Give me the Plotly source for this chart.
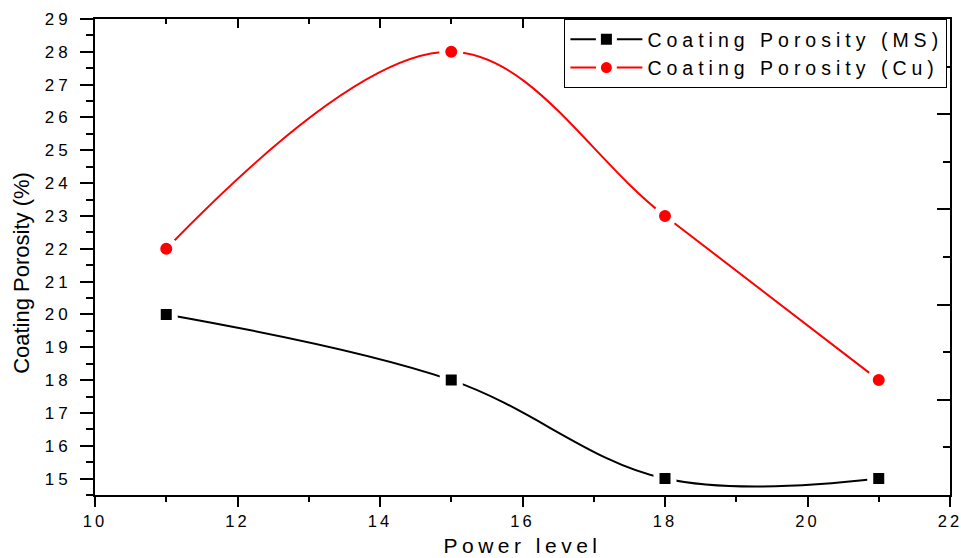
import plotly.graph_objects as go

# Coating porosity measured at each spray power level
power_level = [11, 15, 18, 21]
porosity_ms = [20, 18, 15, 15]
porosity_cu = [22, 28, 23, 18]

series_names = ["Coating Porosity (MS)", "Coating Porosity (Cu)"]

x_range = [10, 22]
y_range = [14.5, 29]

FONT = "Liberation Sans, Arial, Helvetica, sans-serif"

fig = go.Figure()

fig.add_trace(go.Scatter(
    x=power_level, y=porosity_ms, name=series_names[0], mode="lines+markers",
    line=dict(color="black", width=2, shape="spline", smoothing=1.05),
    marker=dict(symbol="square", size=17, color="black",
                line=dict(color="white", width=6)),
))
fig.add_trace(go.Scatter(
    x=power_level, y=porosity_cu, name=series_names[1], mode="lines+markers",
    line=dict(color="#ff0000", width=2, shape="spline", smoothing=1.05),
    marker=dict(symbol="circle", size=18, color="#ff0000",
                line=dict(color="white", width=6)),
))
# empty trace that carries the mirrored top/right frame axes
fig.add_trace(go.Scatter(x=[], y=[], xaxis="x2", yaxis="y2",
                         showlegend=False, hoverinfo="skip"))

axis_common = dict(showline=True, linecolor="black", linewidth=2,
                   showgrid=False, zeroline=False, tickcolor="black",
                   tickwidth=2, automargin=False)

fig.update_layout(
    width=961, height=558,
    margin=dict(l=95, r=11, t=19, b=63, autoexpand=False),
    paper_bgcolor="white", plot_bgcolor="white",
    font=dict(family=FONT, color="black"),
    showlegend=True,
    legend=dict(
        x=0.549, y=1, xanchor="left", yanchor="top",
        bgcolor="white", bordercolor="black", borderwidth=1,
        font=dict(family=FONT, size=19.5, color="black"),
        itemwidth=72, tracegroupgap=0,
    ),
    xaxis=dict(
        **axis_common, range=x_range, tick0=10, dtick=2,
        ticks="outside", ticklen=10,
        tickfont=dict(family=FONT, size=16.5),
        minor=dict(ticks="outside", dtick=1, ticklen=5, tickwidth=2,
                   tickcolor="black"),
        title=dict(text="Power level", font=dict(family=FONT, size=21),
                   standoff=10),
    ),
    yaxis=dict(
        **axis_common, range=y_range, tick0=15, dtick=1,
        ticks="outside", ticklen=13, ticklabelstandoff=5,
        tickfont=dict(family=FONT, size=17),
        minor=dict(ticks="outside", dtick=0.5, ticklen=7, tickwidth=2,
                   tickcolor="black"),
        title=dict(text="Coating Porosity (%)",
                   font=dict(family=FONT, size=22), standoff=17),
    ),
    xaxis2=dict(
        **axis_common, overlaying="x", side="top", anchor="y2",
        range=x_range, tick0=10, dtick=2, ticks="inside", ticklen=9,
        showticklabels=False,
        minor=dict(ticks="inside", dtick=1, ticklen=5, tickwidth=2,
                   tickcolor="black"),
    ),
    yaxis2=dict(
        **axis_common, overlaying="y", side="right", anchor="x2",
        range=[0, 10], tick0=0, dtick=2, ticks="inside", ticklen=13,
        showticklabels=False,
        minor=dict(ticks="inside", dtick=1, ticklen=7, tickwidth=2,
                   tickcolor="black"),
    ),
)

# widen the letter spacing of the tick labels, x title and legend,
# nudge the y title down, then stretch the legend frame to fit
post_script = """
var gd = document.getElementById('{plot_id}');
function spread(sel, px) {
  gd.querySelectorAll(sel).forEach(function (el) { el.style.letterSpacing = px; });
}
spread('.xtick text', '3px');
spread('.ytick text', '4px');
spread('.g-xtitle text', '4.5px');
spread('.legend .legendtext', '5px');
var yt = gd.querySelector('.g-ytitle text');
if (yt) {
  yt.setAttribute('transform', 'translate(0,16) ' + (yt.getAttribute('transform') || ''));
}
var legend = gd.querySelector('.legend');
if (legend) {
  var widest = 0;
  legend.querySelectorAll('.legendtext').forEach(function (t) {
    var x = parseFloat(t.getAttribute('x')) || 0;
    widest = Math.max(widest, x + t.getComputedTextLength());
  });
  var w = widest + 4;
  var bg = legend.querySelector('rect.bg');
  if (bg) bg.setAttribute('width', w);
  var box = legend.querySelector('.scrollbox');
  var clip = box && box.getAttribute('clip-path');
  var m = clip && clip.match(/#([^)'"]+)/);
  if (m) {
    var r = document.querySelector('#' + m[1] + ' rect');
    if (r) r.setAttribute('width', w);
  }
}
"""

fig.write_html("out.html", post_script=post_script)
